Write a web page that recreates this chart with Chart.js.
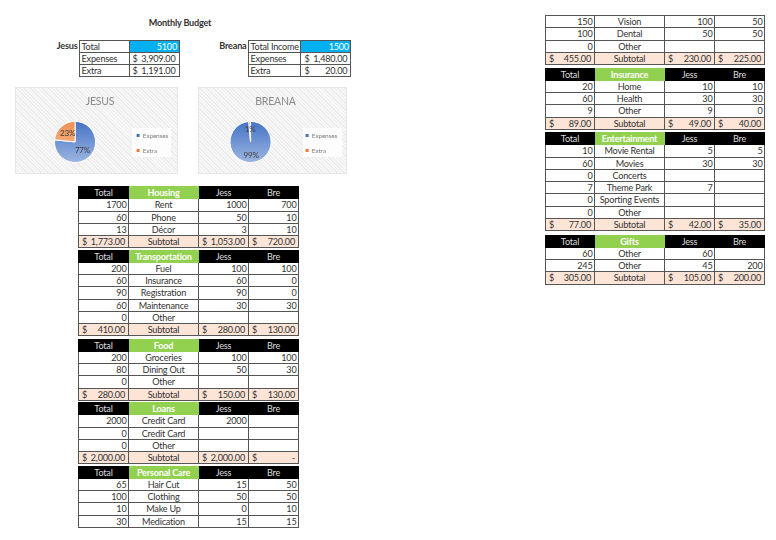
<!DOCTYPE html>
<html>
<head>
<meta charset="utf-8">
<title>Monthly Budget</title>
<script src="https://cdn.jsdelivr.net/npm/chart.js@4"></script>
<style>
  html, body { margin: 0; background: #fff; overflow: hidden; }
  body { width: 776px; height: 540px; position: relative; font-family: Lato, sans-serif; font-size: 9.1px; letter-spacing: -0.2px; color: #333; }
  .abs { position: absolute; white-space: nowrap; }
  .chartBox { position: absolute; box-sizing: border-box; border: 1px solid #e6e6e6;
    background: repeating-linear-gradient(45deg, #ebebeb 0 1px, #f8f8f8 1px 2.5px); }
  .chartBox canvas { position: absolute; left: -1px; top: -1px; }
  table { position: absolute; border-collapse: collapse; table-layout: fixed; background: #fff; }
  td { border: 1px solid #555; height: 12.25px; padding: 0 1.5px; box-sizing: border-box; line-height: 11px;
    overflow: hidden; white-space: nowrap; text-align: center; }
  td.num { text-align: right; }
  td.txt { text-align: left; padding-left: 2px; }
  td.money { text-align: right; padding: 0 3px; }
  td.money span { float: left; }
  tr.head td { background: #000; color: #ddd; border-color: #000; }
  tr.head td.cat { background: #92d050; color: #fff; font-weight: bold; border-color: #92d050; }
  tr.sub td { background: #fce4d6; }
  td.blue { background: #00b0f0; color: #fff; text-align: right; }
</style>
</head>
<body>
<div class="abs" style="left:120px;top:16.5px;width:120px;text-align:center;font-weight:bold;">Monthly Budget</div>
<script>
  // summary
  const people = ["JESUS", "BREANA"];
  const names = ["Jesus", "Breana"];
  const totalLabels = ["Total", "Total Income"];
  const totals = [5100, 1500];
  const expenses = [3909, 1480];
  const extra = [1191, 20];
  const expensesText = ["3,909.00", "1,480.00"];
  const extraText = ["1,191.00", "20.00"];
  const pieLabels = ["Expenses", "Extra"];
  const markerColors = ["#4472c4", "#ed7d31"];

  // budget tables: total, item, jess, bre
  const housingRows = [[1700, "Rent", 1000, 700], [60, "Phone", 50, 10], [13, "Décor", 3, 10]];
  const housingSub = ["1,773.00", "1,053.00", "720.00"];
  const transportRows = [[200, "Fuel", 100, 100], [60, "Insurance", 60, 0], [90, "Registration", 90, 0],
    [60, "Maintenance", 30, 30], [0, "Other", null, null]];
  const transportSub = ["410.00", "280.00", "130.00"];
  const foodRows = [[200, "Groceries", 100, 100], [80, "Dining Out", 50, 30], [0, "Other", null, null]];
  const foodSub = ["280.00", "150.00", "130.00"];
  const loanRows = [[2000, "Credit Card", 2000, null], [0, "Credit Card", null, null], [0, "Other", null, null]];
  const loanSub = ["2,000.00", "2,000.00", "-"];
  const careRows = [[65, "Hair Cut", 15, 50], [100, "Clothing", 50, 50], [10, "Make Up", 0, 10], [30, "Medication", 15, 15]];
  const medicalRows = [[150, "Vision", 100, 50], [100, "Dental", 50, 50], [0, "Other", null, null]];
  const medicalSub = ["455.00", "230.00", "225.00"];
  const insuranceRows = [[20, "Home", 10, 10], [60, "Health", 30, 30], [9, "Other", 9, 0]];
  const insuranceSub = ["89.00", "49.00", "40.00"];
  const funRows = [[10, "Movie Rental", 5, 5], [60, "Movies", 30, 30], [0, "Concerts", null, null], [7, "Theme Park", 7, null],
    [0, "Sporting Events", null, null], [0, "Other", null, null]];
  const funSub = ["77.00", "42.00", "35.00"];
  const giftRows = [[60, "Other", 60, null], [245, "Other", 45, 200]];
  const giftSub = ["305.00", "105.00", "200.00"];

  const leftCols = [78, 50, 70, 50, 50];
  const rightCols = [545, 49, 70, 50, 50];

  function cell(v) {
    return v === null ? "<td></td>" : '<td class="num">' + v + "</td>";
  }

  function moneyCell(v) {
    return '<td class="money"><span>$</span>' + v + "</td>";
  }

  function addTable(cols, top, title, rows, sub) {
    const t = document.createElement("table");
    t.style.left = cols[0] + "px";
    t.style.top = top + "px";
    let html = "<colgroup>";
    cols.slice(1).forEach((w) => (html += '<col style="width:' + w + 'px">'));
    html += "</colgroup>";
    if (title) {
      html += '<tr class="head"><td>Total</td><td class="cat">' + title + "</td><td>Jess</td><td>Bre</td></tr>";
    }
    rows.forEach((r) => {
      html += "<tr>" + cell(r[0]) + "<td>" + r[1] + "</td>" + cell(r[2]) + cell(r[3]) + "</tr>";
    });
    if (sub) {
      html += '<tr class="sub">' + moneyCell(sub[0]) + "<td>Subtotal</td>" + moneyCell(sub[1]) + moneyCell(sub[2]) + "</tr>";
    }
    t.innerHTML = html;
    document.body.appendChild(t);
  }

  addTable(leftCols, 186, "Housing", housingRows, housingSub);
  addTable(leftCols, 249.5, "Transportation", transportRows, transportSub);
  addTable(leftCols, 338.5, "Food", foodRows, foodSub);
  addTable(leftCols, 402, "Loans", loanRows, loanSub);
  addTable(leftCols, 465.5, "Personal Care", careRows, null);
  addTable(rightCols, 15, null, medicalRows, medicalSub);
  addTable(rightCols, 67.5, "Insurance", insuranceRows, insuranceSub);
  addTable(rightCols, 132, "Entertainment", funRows, funSub);
  addTable(rightCols, 234.5, "Gifts", giftRows, giftSub);

  // summary tables and their bold names
  [78.5, 247.5].forEach((x, i) => {
    const t = document.createElement("table");
    t.style.left = x + "px";
    t.style.top = "39.5px";
    t.innerHTML = '<colgroup><col style="width:50px"><col style="width:50px"></colgroup>' +
      '<tr><td class="txt">' + totalLabels[i] + '</td><td class="blue">' + totals[i] + "</td></tr>" +
      '<tr><td class="txt">Expenses</td>' + moneyCell(expensesText[i]) + "</tr>" +
      '<tr><td class="txt">Extra</td>' + moneyCell(extraText[i]) + "</tr>";
    document.body.appendChild(t);
    const n = document.createElement("div");
    n.className = "abs";
    n.style.cssText = "right:" + (776 - x) + "px;top:40px;font-weight:bold;padding-right:1px;";
    n.textContent = names[i];
    document.body.appendChild(n);
  });

  // legend drop, white plate behind the legend, percent labels on the slices
  const piePlugin = {
    id: "piePlugin",
    afterLayout(chart) {
      chart.legend.top += 18;
      chart.legend.bottom += 18;
    },
    beforeDraw(chart) {
      const ctx = chart.ctx;
      ctx.save();
      ctx.fillStyle = "rgba(255,255,255,0.8)";
      ctx.fillRect(chart.options.plugins.piePlugin.plateX, 41, 39, 29);
      ctx.restore();
    },
    afterDraw(chart) {
      const ctx = chart.ctx;
      const values = chart.data.datasets[0].data;
      const sum = values.reduce((a, b) => a + b, 0);
      const place = chart.options.plugins.piePlugin.place;
      ctx.save();
      ctx.font = "8px Lato";
      ctx.fillStyle = "#404040";
      ctx.textAlign = "center";
      ctx.textBaseline = "middle";
      chart.getDatasetMeta(0).data.forEach((arc, i) => {
        const mid = (arc.startAngle + arc.endAngle) / 2;
        const r = arc.outerRadius * place[i];
        ctx.fillText(Math.round((values[i] / sum) * 100) + "%", arc.x + Math.cos(mid) * r, arc.y + Math.sin(mid) * r);
      });
      ctx.restore();
    },
  };

  function fade(chart, top, bottom) {
    const area = chart.chartArea;
    if (!area) return top;
    const g = chart.ctx.createLinearGradient(0, area.top, 0, area.bottom);
    g.addColorStop(0, top);
    g.addColorStop(1, bottom);
    return g;
  }

  const boxLeft = [15, 198];
  const boxWidth = [163, 149];
  const padLeft = [7, 6];
  const plateX = [117, 105];
  const labelPlace = [[0.54, 0.54], [0.66, 0.62]];

  people.forEach((name, i) => {
    const box = document.createElement("div");
    box.className = "chartBox";
    box.style.cssText = "left:" + boxLeft[i] + "px;top:87px;width:" + boxWidth[i] + "px;height:87px;";
    const canvas = document.createElement("canvas");
    canvas.width = boxWidth[i];
    canvas.height = 87;
    box.appendChild(canvas);
    document.body.appendChild(box);

    new Chart(canvas.getContext("2d"), {
      type: "pie",
      plugins: [piePlugin],
      data: {
        labels: pieLabels,
        datasets: [
          {
            data: [expenses[i], extra[i]],
            backgroundColor: (c) =>
              c.dataIndex === 0 ? fade(c.chart, "#4472c4", "#9db6e2") : fade(c.chart, "#f08f4f", "#f8c4a0"),
            borderColor: "#fff",
            borderWidth: 1,
          },
        ],
      },
      options: {
        responsive: false,
        animation: false,
        layout: { padding: { left: padLeft[i], right: 0, top: 0, bottom: 11 } },
        plugins: {
          piePlugin: { place: labelPlace[i], plateX: plateX[i] },
          tooltip: { enabled: false },
          title: {
            display: true,
            text: name,
            color: "#8c8c8c",
            font: { family: "Lato", size: 10.5, weight: "normal" },
            padding: { top: 8.5, bottom: 12.8 },
          },
          legend: {
            position: "right",
            labels: {
              boxWidth: 3,
              boxHeight: 3,
              padding: 8.5,
              color: "#808080",
              font: { family: "Lato", size: 6.5 },
              generateLabels(chart) {
                const items = Chart.overrides.pie.plugins.legend.labels.generateLabels(chart);
                items.forEach((item, k) => {
                  item.fillStyle = markerColors[k];
                  item.lineWidth = 0;
                });
                return items;
              },
            },
          },
        },
      },
    });
  });
</script>
</body>
</html>
